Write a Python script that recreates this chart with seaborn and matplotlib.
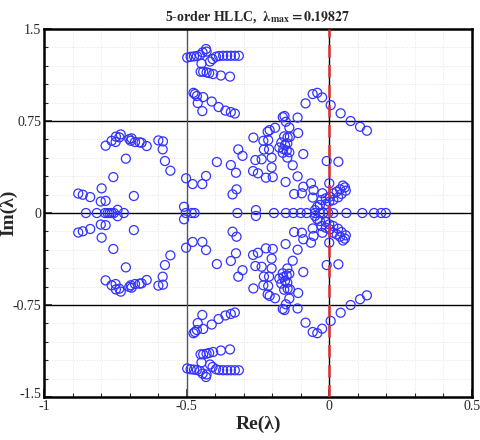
import matplotlib
matplotlib.use("Agg")
import matplotlib.pyplot as plt
import matplotlib.transforms as mtransforms
import seaborn as sns
import numpy as np
import pandas as pd

# Eigenvalues in the upper half plane (conjugates are mirrored below)
upper_re = [-0.784, -0.763, -0.748, -0.731, -0.736, -0.749, -0.701, -0.693, -0.696, -0.681,
            -0.665, -0.658, -0.640, -0.599, -0.583, -0.584, -0.576, -0.557, -0.713, -0.757,
            -0.798, -0.880, -0.864, -0.838, -0.801, -0.784, -0.685, -0.742,
            -0.502, -0.479, -0.509,
            -0.498, -0.486, -0.474, -0.464, -0.453, -0.444, -0.432, -0.430, -0.448, -0.418,
            -0.409, -0.397, -0.386, -0.372, -0.358, -0.345, -0.331, -0.317,
            -0.451, -0.442, -0.430, -0.421, -0.407, -0.380, -0.348,
            -0.476, -0.471, -0.464, -0.442, -0.412, -0.461, -0.388, -0.445, -0.364, -0.345, -0.331,
            -0.394, -0.345, -0.327, -0.432, -0.445, -0.325, -0.339, -0.266, -0.319, -0.304,
            -0.259, -0.237, -0.267, -0.250, -0.222, -0.198, -0.202, -0.229, -0.211, -0.202,
            -0.231, -0.214, -0.216, -0.209, -0.190, -0.163, -0.157, -0.152, -0.140, -0.111,
            -0.109, -0.158, -0.146, -0.138, -0.168, -0.155, -0.147, -0.175, -0.161, -0.149,
            -0.163, -0.140, -0.091, -0.147, -0.128, -0.111, -0.153, -0.123, -0.091, -0.096,
            -0.064, -0.055, -0.058, -0.024,
            -0.058, -0.042, -0.025, -0.083, 0.005, 0.040, 0.075, 0.108, 0.132,
            -0.009, 0.032, 0.000, 0.048, 0.055, 0.038, 0.026, 0.014, 0.058, 0.043,
            0.031, 0.002, -0.012, -0.027, 0.000, 0.014, -0.012, -0.042, -0.033, -0.050, -0.257]
upper_im = [0.549, 0.589, 0.623, 0.641, 0.617, 0.579, 0.603, 0.609, 0.589, 0.579,
            0.576, 0.573, 0.546, 0.592, 0.584, 0.519, 0.424, 0.345, 0.443, 0.293,
            0.201, 0.159, 0.149, 0.130, 0.094, 0.099, 0.139, 0.026,
            0.283, 0.236, 0.051,
            1.267, 1.274, 1.277, 1.280, 1.288, 1.310, 1.337, 1.316, 1.218, 1.235,
            1.255, 1.274, 1.280, 1.282, 1.282, 1.282, 1.282, 1.282,
            1.152, 1.152, 1.147, 1.141, 1.133, 1.121, 1.112,
            0.980, 0.970, 0.954, 0.945, 0.909, 0.897, 0.864, 0.831, 0.835, 0.823, 0.811,
            0.416, 0.391, 0.328, 0.302, 0.236, 0.193, 0.152, 0.615, 0.519, 0.466,
            0.432, 0.438, 0.342, 0.324, 0.288, 0.293, 0.372, 0.518, 0.518, 0.451,
            0.589, 0.595, 0.663, 0.676, 0.695, 0.782, 0.791, 0.744, 0.697, 0.778,
            0.652, 0.625, 0.617, 0.622, 0.575, 0.554, 0.568, 0.534, 0.522, 0.509,
            0.491, 0.495, 0.481, 0.452, 0.389, 0.299, 0.253, 0.155, 0.214, 0.161,
            0.242, 0.187, 0.126, 0.161,
            0.970, 0.980, 0.943, 0.894, 0.880, 0.813, 0.750, 0.703, 0.671,
            0.424, 0.418, 0.242, 0.224, 0.209, 0.193, 0.174, 0.161, 0.182, 0.155,
            0.128, 0.133, 0.120, 0.106, 0.092, 0.106, 0.073, 0.051, 0.065, 0.024, 0.024]
# Real eigenvalues
real_re = [-0.853, -0.815, -0.786, -0.777, -0.770, -0.763, -0.755, -0.720,
           -0.503, -0.482, -0.472, -0.322, -0.194, -0.152, -0.126, -0.100, -0.079,
           -0.050, -0.033, -0.021, -0.004, 0.014, 0.060, 0.116, 0.157, 0.182, 0.19827]

x_ticks = [-1, -0.5, 0, 0.5]
x_tick_labels = ["-1", "-0.5", "0", "0.5"]
y_ticks = [-1.5, -0.75, 0, 0.75, 1.5]
y_tick_labels = ["-1.5", "-0.75", "0", "0.75", "1.5"]
title = r"5-order HLLC,  $\mathbf{\lambda}_{\mathbf{max}}$$\mathbf{ = 0.19827}$"

re_all = np.concatenate([upper_re, upper_re, real_re])
im_all = np.concatenate([upper_im, -np.array(upper_im), np.zeros(len(real_re))])
df = pd.DataFrame({"Re": re_all, "Im": im_all})

sns.set_theme(style="white")
plt.rcParams["font.family"] = ["Liberation Serif", "DejaVu Serif"]
plt.rcParams["mathtext.fontset"] = "stix"

fig = plt.figure(figsize=(4.81, 4.40), dpi=100)
ax = fig.add_axes([0.0915, 0.0977, 0.8895, 0.8363])

# faint dotted minor grid
for xv in np.arange(-0.9, 0.5, 0.1):
    ax.axvline(xv, color="#dcdcdc", lw=0.6, ls=(0, (1, 2)), zorder=0)
for yv in np.arange(-1.35, 1.5, 0.15):
    ax.axhline(yv, color="#dcdcdc", lw=0.6, ls=(0, (1, 2)), zorder=0)
# major grid
for yv in [-0.75, 0, 0.75]:
    ax.axhline(yv, color="black", lw=1.0, zorder=1)
ax.axvline(-0.5, color="#555555", lw=1.0, zorder=1)
ax.axvline(0, color="black", lw=1.0, zorder=1)
ax.axvline(0, color="#e03030", lw=1.8, ls=(0, (5, 3)), zorder=3)

sns.scatterplot(data=df, x="Re", y="Im", ax=ax, marker="o", s=42,
                edgecolor="#3333ff", linewidth=0.9, zorder=2, legend=False)
for coll in ax.collections:
    coll.set_facecolor("none")
    coll.set_edgecolor("#3333ff")

ax.set_xlim(-1, 0.5)
ax.set_ylim(-1.5, 1.5)
ax.set_xticks(x_ticks)
ax.set_xticklabels(x_tick_labels)
ax.set_yticks(y_ticks)
ax.set_yticklabels(y_tick_labels)
ax.set_xticks(np.arange(-1, 0.51, 0.1), minor=True)
ax.set_yticks(np.arange(-1.5, 1.51, 0.15), minor=True)
ax.tick_params(which="major", direction="in", length=6, width=1.2, labelsize=10,
               bottom=True, left=True, top=False, right=False, pad=2)
ax.tick_params(which="minor", direction="in", length=3, width=0.8,
               bottom=True, left=True, top=False, right=False)
for sp in ax.spines.values():
    sp.set_linewidth(1.8)
    sp.set_color("black")

# nudge the bottom y label up slightly so it does not collide with "-1"
lbl = ax.get_yticklabels()[0]
lbl.set_transform(lbl.get_transform() + mtransforms.ScaledTranslation(0, 3 / 72, fig.dpi_scale_trans))

ax.set_xlabel("Re(λ)", fontsize=14, fontweight="bold", labelpad=2)
ax.set_ylabel("Im(λ)", fontsize=14, fontweight="bold")
ax.yaxis.set_label_coords(-0.062, 0.5)
ax.set_title(title, fontsize=10, fontweight="bold", pad=6)

fig.savefig("out.png", dpi=100)
